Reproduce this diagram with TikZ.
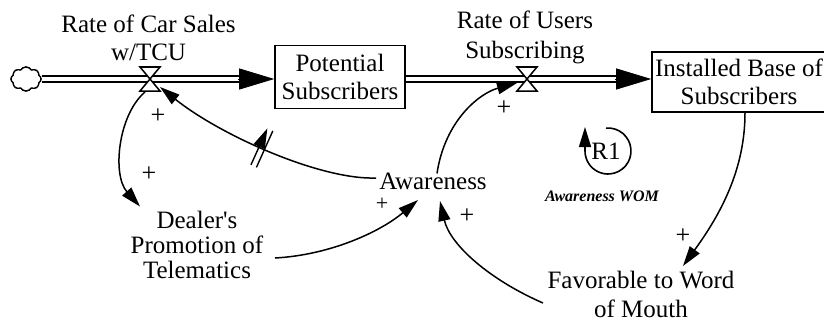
\documentclass[tikz,border=0pt]{standalone}
\usepackage{fontspec}
\setmainfont{Liberation Serif}
\usetikzlibrary{arrows.meta,shapes.symbols,decorations.markings,calc}

\begin{document}
\begin{tikzpicture}[x=1pt,y=-1pt,
  lbl/.style={font=\fontsize{25}{28}\selectfont, align=center, inner sep=0pt},
  stock/.style={lbl, draw, line width=1.6pt, inner sep=0pt},
  link/.style={line width=1.5pt, -{Triangle[length=20pt,width=12pt]}},
  pipeout/.style={line width=7.5pt, shorten >=33pt},
  pipein/.style={white, line width=3.5pt, shorten >=33pt},
  flowtip/.style={line width=0.8pt, -{Triangle[length=35pt,width=21pt]}},
  sgn/.style={font=\fontsize{26}{26}\selectfont, inner sep=0pt},
  valve/.pic={
    \draw[line width=1.5pt, fill=white, line join=miter]
      (-10,-12) -- (10,-12) -- (-10,12) -- (10,12) -- cycle;
    \coordinate (-c) at (0,0);
  },
  delaymark/.style={postaction={decorate, decoration={markings,
    mark=at position 0.5 with {
      \draw[line width=1.4pt] (-3,-20) -- (-3,20) (3,-20) -- (3,20);}}}}
]
\useasboundingbox (0,0) rectangle (824,321);

% stocks, source and variables
\node[cloud, cloud puffs=8, cloud puff arc=120, aspect=1.3, draw, fill=white,
      line width=1.3pt, minimum width=30pt, minimum height=24pt, inner sep=0pt]
      (src) at (26,79) {};
\node[stock, minimum width=130pt, minimum height=63pt] (ps) at (340,77)
      {Potential\\Subscribers};
\node[stock, minimum width=174pt, minimum height=60pt] (ib) at (739,82)
      {Installed Base of\\Subscribers};

\node[lbl] (rcs) at (148.5,37.5) {Rate of Car Sales\\w/TCU};
\node[lbl, font=\fontsize{25}{30}\selectfont] (rus) at (525,37) {Rate of Users\\Subscribing};
\node[lbl] (aw) at (433,181) {Awareness};
\node[lbl, font=\fontsize{25}{25}\selectfont] (dp) at (197,244.5)
      {Dealer\textquotesingle s\\Promotion of\\Telematics};
\node[lbl, font=\fontsize{25}{29}\selectfont] (fw) at (641,294)
      {Favorable to Word\\of Mouth};

% material flows
\coordinate (v1pos) at (150,79);
\coordinate (v2pos) at (527,79);
\draw[pipeout] (src.east) -- (src -| ps.west);
\draw[pipein]  (src.east) -- (src -| ps.west);
\draw[flowtip] ($(src -| ps.west)+(-36,0)$) -- (src -| ps.west);
\draw[pipeout] (ps.east |- v2pos) -- (ib.west |- v2pos);
\draw[pipein]  (ps.east |- v2pos) -- (ib.west |- v2pos);
\draw[flowtip] ($(ib.west |- v2pos)+(-36,0)$) -- (ib.west |- v2pos);
\node[cloud, cloud puffs=8, cloud puff arc=120, aspect=1.3, draw, fill=white,
      line width=1.3pt, minimum width=30pt, minimum height=24pt, inner sep=0pt]
      at (src) {};
\pic (v1) at (v1pos) {valve};
\pic (v2) at (v2pos) {valve};

% causal links
\draw[link] ($(v1-c)+(-5,13)$) .. controls (118,115) and (112,175) .. ($(dp.center)+(-57,-38)$);
\draw[link, delaymark] ($(aw.west)+(-3,-3)$) .. controls (320,180) and (220,135) .. ($(v1-c)+(10,8)$);
\draw[link] ($(aw.north)+(4,1)$) .. controls (445,120) and (480,93) .. ($(v2-c)+(-10,4)$);
\draw[link] ($(dp.center)+(78,13.5)$) .. controls (330,255) and (380,232) .. ($(aw.center)+(-15,19)$);
\draw[link] ($(ib.south)+(6,0)$) .. controls (745,170) and (720,215) .. ($(fw.center)+(42,-28)$);
\draw[link] ($(fw.center)+(-98,9)$) .. controls (490,280) and (450,245) .. ($(aw.center)+(7,20)$);

% polarities
\node[sgn] (p1) at (158,116) {+};
\node[sgn] (p2) at (149,174) {+};
\node[sgn] (p3) at (504,108) {+};
\node[sgn, font=\fontsize{22}{22}\selectfont] (p4) at (382,204) {+};
\node[sgn] (p5) at (467,216) {+};
\node[sgn] (p6) at (683,236) {+};

% loop identifier
\node[lbl] (r1) at (606,151) {R1};
\draw[line width=1.6pt, -{Triangle[length=20pt,width=12pt]}]
  ($(r1)+(2,0)+(-95:23)$) arc[start angle=-95, end angle=180, radius=23]
  -- ++(0,-24);
\node[font=\fontsize{16}{16}\selectfont\bfseries\itshape, inner sep=0pt] (wom)
  at (602,196) {Awareness WOM};
\end{tikzpicture}
\end{document}
